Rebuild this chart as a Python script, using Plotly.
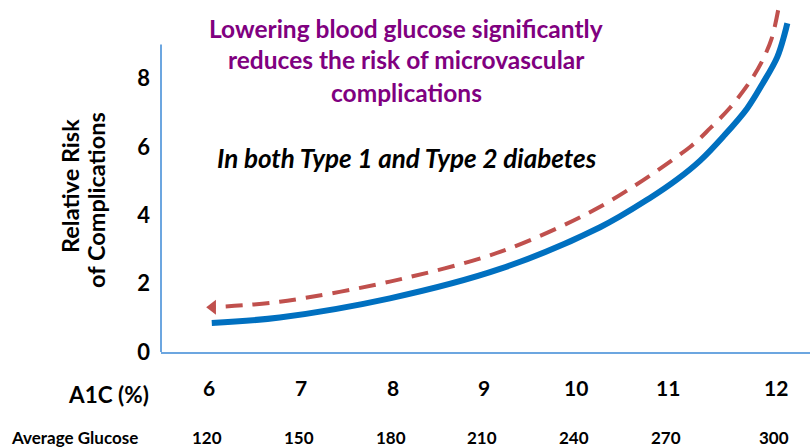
import plotly.graph_objects as go

# Tick labels
a1c_ticks = [6, 7, 8, 9, 10, 11, 12]
avg_glucose = [120, 150, 180, 210, 240, 270, 300]
risk_ticks = [0, 2, 4, 6, 8]

# Relative risk of complications vs A1C (solid curve)
risk_a1c = [6.03, 6.77, 7.97, 9.17, 10.26, 10.80, 11.10, 11.35, 11.60, 11.86, 12.03, 12.19, 12.27, 12.30]
risk_val = [0.85, 1.01, 1.57, 2.43, 3.65, 4.50, 5.05, 5.60, 6.30, 7.12, 7.85, 8.63, 9.30, 9.62]

# Dashed trend arrow, running from high A1C down to low A1C
trend_a1c = [12.20, 12.13, 12.02, 11.89, 11.68, 11.46, 11.24, 10.26, 9.17, 7.97, 6.77, 6.04]
trend_val = [10.00, 9.18, 8.48, 7.90, 7.16, 6.55, 6.00, 4.25, 2.93, 2.06, 1.47, 1.31]

W, H = 810, 448
ML, MR, MT, MB = 161, 0, 0, 96
FONT = "Lato"
AXIS_BLUE = "#6ca6e0"
RED = "#c0504d"


def px_x(px):
    return (px - ML) / (W - ML - MR)


def px_y(py):
    return (H - MB - py) / (H - MT - MB)


fig = go.Figure()

fig.add_trace(go.Scatter(
    x=risk_a1c, y=risk_val, mode="lines",
    line=dict(color="#0070c0", width=6, shape="spline", smoothing=1.0),
    hoverinfo="skip", showlegend=False,
))

fig.add_trace(go.Scatter(
    x=trend_a1c, y=trend_val, mode="lines",
    line=dict(color=RED, width=4, dash="17px,10px", shape="spline", smoothing=0.9),
    hoverinfo="skip", showlegend=False,
))

# Arrow head at the low-A1C end of the trend
fig.add_trace(go.Scatter(
    x=trend_a1c[-1:], y=trend_val[-1:], mode="markers",
    marker=dict(symbol="triangle-left", size=13, color=RED, line=dict(width=0)),
    hoverinfo="skip", showlegend=False,
))

# Vertical axis line stops at 9 while the curves run above it
fig.add_shape(type="line", xref="x domain", yref="y", x0=0, x1=0, y0=0, y1=9,
              line=dict(color=AXIS_BLUE, width=2))

annotations = []

title_lines = ["Lowering blood glucose significantly",
               "reduces the risk of microvascular",
               "complications"]
for line, cy in zip(title_lines, [28, 60, 93]):
    annotations.append(dict(
        text=line, xref="paper", yref="paper", x=px_x(406), y=px_y(cy),
        xanchor="center", yanchor="middle", showarrow=False,
        font=dict(family=FONT, size=24.5, color="#800080", weight="bold"),
    ))

annotations.append(dict(
    text="<i>In both Type 1 and Type 2 diabetes</i>", xref="paper", yref="paper",
    x=px_x(407), y=px_y(158), xanchor="center", yanchor="middle", showarrow=False,
    font=dict(family=FONT, size=26, color="black", weight="bold"),
))

for line, cx, cy in [("Relative Risk", 70, 186), ("of Complications", 96, 200)]:
    annotations.append(dict(
        text=line, xref="paper", yref="paper", x=px_x(cx), y=px_y(cy),
        xanchor="center", yanchor="middle", textangle=-90, showarrow=False,
        font=dict(family=FONT, size=23.5, color="black", weight="bold"),
    ))

annotations.append(dict(
    text="A1C (%)", xref="paper", yref="paper", x=px_x(151), y=px_y(394),
    xanchor="right", yanchor="middle", showarrow=False,
    font=dict(family=FONT, size=22.5, color="black", weight="bold"),
))
annotations.append(dict(
    text="Average Glucose", xref="paper", yref="paper", x=px_x(9), y=px_y(437),
    xanchor="left", yanchor="middle", showarrow=False,
    font=dict(family=FONT, size=17, color="black", weight="bold"),
))

for i, (a, g) in enumerate(zip(a1c_ticks, avg_glucose)):
    shift = 16 if i == len(a1c_ticks) - 1 else 0
    annotations.append(dict(
        text=str(a), xref="x", yref="paper", x=a, y=px_y(387), xshift=shift,
        xanchor="center", yanchor="middle", showarrow=False,
        font=dict(family=FONT, size=21, color="black", weight="bold"),
    ))
    annotations.append(dict(
        text=str(g), xref="x", yref="paper", x=a, y=px_y(437), xshift=shift - 2,
        xanchor="center", yanchor="middle", showarrow=False,
        font=dict(family=FONT, size=17, color="black", weight="bold"),
    ))

fig.update_layout(
    width=W, height=H,
    margin=dict(l=ML, r=MR, t=MT, b=MB),
    paper_bgcolor="white", plot_bgcolor="white",
    annotations=annotations,
    xaxis=dict(
        range=[5.477, 12.547], showgrid=False, zeroline=False,
        showline=True, linecolor=AXIS_BLUE, linewidth=2,
        showticklabels=False, ticks="",
    ),
    yaxis=dict(
        range=[0, 10.3], showgrid=False, zeroline=False, showline=False,
        tickvals=risk_ticks, ticktext=[str(v) for v in risk_ticks],
        ticks="", ticklabelstandoff=10,
        tickfont=dict(family=FONT, size=22, color="black", weight="bold"),
    ),
)

fig.write_html("out.html")
